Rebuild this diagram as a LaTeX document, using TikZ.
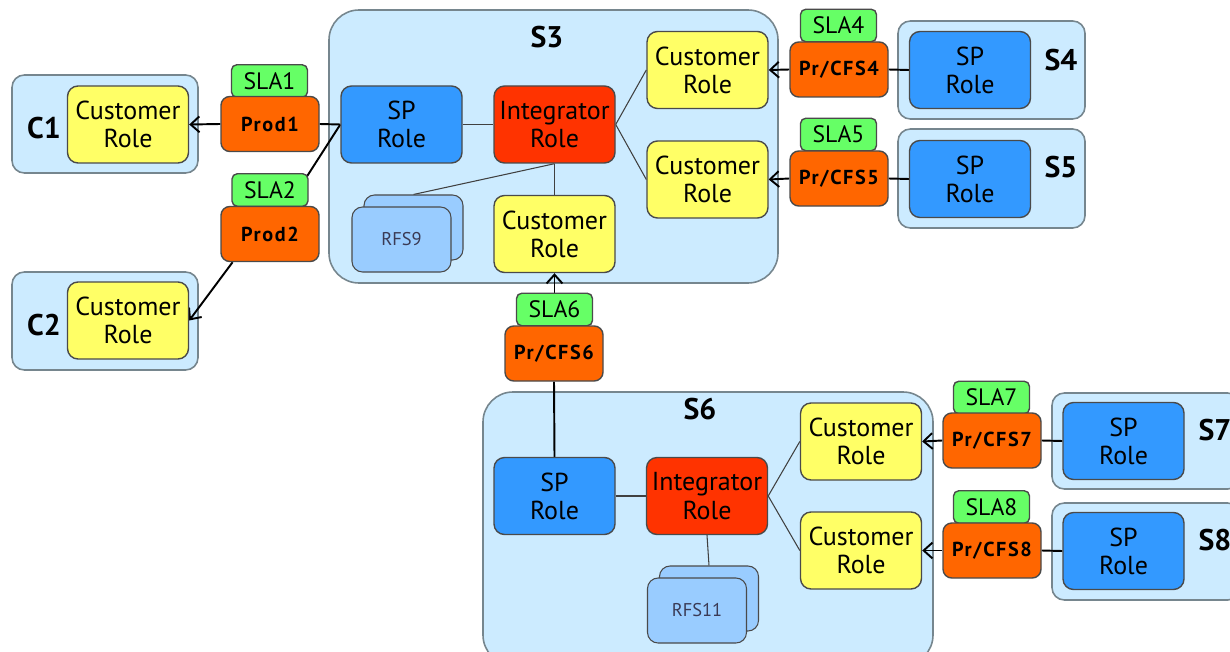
\documentclass[tikz,border=0pt]{standalone}
\usepackage{fontspec}
\setmainfont{PT Sans}
\newfontfamily\fsfamily{PT Sans}[LetterSpace=8]
\usetikzlibrary{arrows.meta}

\definecolor{zoneblue}{HTML}{CCEBFF}
\definecolor{zoneline}{HTML}{76868E}
\definecolor{nodeline}{HTML}{4A4A4A}
\definecolor{spblue}{HTML}{3399FF}
\definecolor{custyellow}{HTML}{FFFF66}
\definecolor{integred}{HTML}{FF3300}
\definecolor{prodorange}{HTML}{FF6600}
\definecolor{slagreen}{HTML}{66FF66}
\definecolor{rfsblue}{HTML}{99CCFF}
\definecolor{rfstext}{HTML}{3A3A55}
\definecolor{linkgray}{HTML}{404040}

\newcommand\rolefont{\fontsize{14.8}{16}\selectfont}
\newcommand\fsfont{\fsfamily\bfseries\fontsize{11.5}{12}\selectfont}
\newcommand\slafont{\fontsize{13.5}{14}\selectfont}

\pgfdeclarelayer{back}
\pgfdeclarelayer{wires}
\pgfsetlayers{back,wires,main}

\begin{document}
\begin{tikzpicture}[
    x=0.2mm, y=-0.2mm,
    >={Straight Barb[length=5pt,width=9pt]},
    role/.style={draw=nodeline, line width=0.8pt, rounded corners=6pt, minimum width=2.42cm, minimum height=1.54cm, align=center, inner sep=1pt, font=\rolefont},
    sprole/.style={role, fill=spblue},
    custrole/.style={role, fill=custyellow},
    integrole/.style={role, fill=integred},
    fsbox/.style={draw=nodeline, line width=0.8pt, fill=prodorange, rounded corners=5pt, minimum width=1.96cm, minimum height=1.1cm, inner sep=1pt, font=\fsfont},
    slabox/.style={draw=nodeline, line width=0.8pt, fill=slagreen, rounded corners=3pt, minimum width=1.52cm, minimum height=0.65cm, inner sep=1pt, font=\slafont},
    rfsbox/.style={draw=nodeline, line width=0.6pt, fill=rfsblue, rounded corners=6pt, minimum width=1.98cm, minimum height=1.3cm, text=rfstext, font=\fontsize{10.5}{12}\selectfont},
    zonebox/.style={draw=zoneline, fill=zoneblue, line width=0.9pt, rounded corners=7pt},
    bigzone/.style={zonebox, rounded corners=0.6cm},
    zlabel/.style={font=\bfseries\fontsize{17}{17}\selectfont},
    wire/.style={line width=1.1pt},
    link/.style={line width=0.6pt, draw=linkgray}
  ]
  \useasboundingbox (0,0) rectangle (1230,652);

  % zones
  \begin{pgfonlayer}{back}
    \clip (0,0) rectangle (1230,652);
    \node (c1) at (105,124)    [zonebox, minimum width=3.72cm, minimum height=1.96cm] {};
    \node (c2) at (105,321)    [zonebox, minimum width=3.72cm, minimum height=1.96cm] {};
    \node (s3) at (553.5,146.5) [bigzone, minimum width=8.98cm, minimum height=5.46cm] {};
    \node (s4) at (991.5,70)   [zonebox, minimum width=3.74cm, minimum height=1.96cm] {};
    \node (s5) at (991.5,178.5) [zonebox, minimum width=3.74cm, minimum height=1.98cm] {};
    \node (s6) at (708,528.5)  [bigzone, minimum width=9.0cm, minimum height=5.46cm] {};
    \node (s7) at (1146,441)   [zonebox, minimum width=3.76cm, minimum height=1.92cm] {};
    \node (s8) at (1146,551.5) [zonebox, minimum width=3.76cm, minimum height=1.94cm] {};
  \end{pgfonlayer}

  \node (c1lbl) at (44,128)   [zlabel] {C1};
  \node (c2lbl) at (44,325)   [zlabel] {C2};
  \node (s3lbl) at (547,37)   [zlabel] {S3};
  \node (s4lbl) at (1061,60)  [zlabel] {S4};
  \node (s5lbl) at (1061,167) [zlabel] {S5};
  \node (s6lbl) at (700,409)  [zlabel] {S6};
  \node (s7lbl) at (1215,430) [zlabel] {S7};
  \node (s8lbl) at (1215,540) [zlabel] {S8};

  % customers
  \node (c1cust) at (128,124.5) [custrole] {Customer\\Role};
  \node (c2cust) at (128,320.5) [custrole] {Customer\\Role};

  % S3
  \node (s3sp)    at (401.5,124.5) [sprole]    {SP\\Role};
  \node (s3int)   at (554.5,124.5) [integrole] {Integrator\\Role};
  \node (s3custa) at (707.5,70)    [custrole]  {Customer\\Role};
  \node (s3custb) at (707.5,179.5) [custrole]  {Customer\\Role};
  \node (s3custc) at (554.5,234)   [custrole]  {Customer\\Role};
  \node (rfs9b)   at (413.5,227.5) [rfsbox] {};
  \node (rfs9)    at (401.5,239.5) [rfsbox] {RFS9};

  % S6
  \node (s6sp)    at (554.5,496)   [sprole]    {SP\\Role};
  \node (s6int)   at (707,496)     [integrole] {Integrator\\Role};
  \node (s6custa) at (861,441.5)   [custrole]  {Customer\\Role};
  \node (s6custb) at (861,550.5)   [custrole]  {Customer\\Role};
  \node (rfs11b)  at (709,598.5)   [rfsbox] {};
  \node (rfs11)   at (697,610.5)   [rfsbox] {RFS11};

  % suppliers
  \node (s4sp) at (970,70)      [sprole] {SP\\Role};
  \node (s5sp) at (970,179)     [sprole] {SP\\Role};
  \node (s7sp) at (1123.5,441)  [sprole] {SP\\Role};
  \node (s8sp) at (1123.5,551)  [sprole] {SP\\Role};

  % SLAs and services
  \node (sla1) at (269.5,81)   [slabox] {SLA1};
  \node (prod1) at (270,124)   [fsbox]  {Prod1};
  \node (sla2) at (270,190)    [slabox] {SLA2};
  \node (prod2) at (270,234)   [fsbox]  {Prod2};
  \node (sla4) at (838.5,25.5) [slabox] {SLA4};
  \node (cfs4) at (839,69.5)   [fsbox]  {Pr/CFS4};
  \node (sla5) at (838.5,134.5) [slabox] {SLA5};
  \node (cfs5) at (839,178.5)  [fsbox]  {Pr/CFS5};
  \node (sla6) at (554.5,309.5) [slabox] {SLA6};
  \node (cfs6) at (554,353.5)  [fsbox]  {Pr/CFS6};
  \node (sla7) at (991.5,397.5) [slabox] {SLA7};
  \node (cfs7) at (992,440.5)  [fsbox]  {Pr/CFS7};
  \node (sla8) at (991.5,507)  [slabox] {SLA8};
  \node (cfs8) at (992,550.5)  [fsbox]  {Pr/CFS8};

  \begin{pgfonlayer}{wires}
    \draw [wire, ->] (prod1.west) -- (c1cust.east);
    \draw [wire] (prod1.east) -- (s3sp.west);
    \draw [wire] (s3sp.west) -- (prod2);
    \draw [wire, ->] (prod2.217) -- (c2cust.east);
    \draw [wire, ->] (cfs4.west) -- (s3custa.east);
    \draw [wire] (s4sp.west) -- (cfs4.east);
    \draw [wire, ->] (cfs5.west) -- (s3custb.east);
    \draw [wire] (s5sp.west) -- (cfs5.east);
    \draw [wire, ->] (sla6.north) -- (s3custc.south);
    \draw [wire] (cfs6.south) -- (s6sp.north);
    \draw [wire, ->] (cfs7.west) -- (s6custa.east);
    \draw [wire] (s7sp.west) -- (cfs7.east);
    \draw [wire, ->] (cfs8.west) -- (s6custb.east);
    \draw [wire] (s8sp.west) -- (cfs8.east);

    \draw [link] (s3sp) -- (s3int);
    \draw [link] (s3int.east) -- (s3custa.west);
    \draw [link] (s3int.east) -- (s3custb.west);
    \draw [link] (s3int) -- (s3custc);
    \draw [link] (s3int.south) -- (rfs9b.north);
    \draw [link] (s6sp) -- (s6int);
    \draw [link] (s6int.east) -- (s6custa.west);
    \draw [link] (s6int.east) -- (s6custb.west);
    \draw [link] (s6int.south) -- (rfs11b.north);
  \end{pgfonlayer}
\end{tikzpicture}
\end{document}
